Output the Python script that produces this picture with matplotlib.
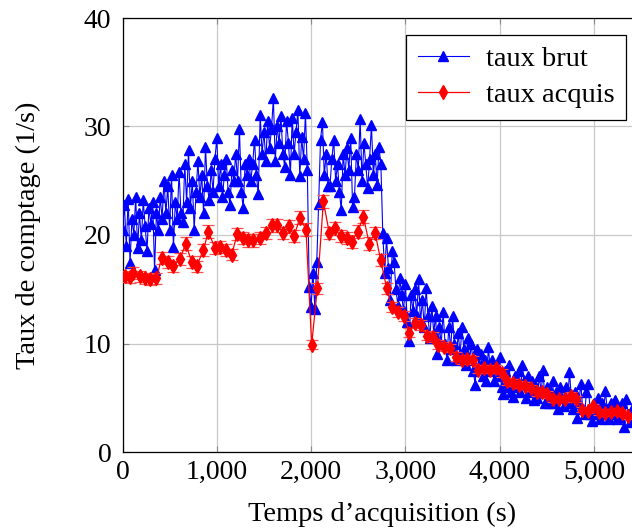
import numpy as np
import matplotlib
matplotlib.use("Agg")
import matplotlib.pyplot as plt

plt.rcParams['font.family'] = ['Liberation Serif', 'DejaVu Serif']

# Raw rate ("taux brut"), sampled every 20 s
brut_step = 20
brut_values = [
    20.5, 22.8, 19.0, 23.3, 17.4, 21.5, 20.0, 23.5, 18.8, 22.0,
    19.5, 23.2, 20.8, 18.5, 22.5, 21.0, 23.0, 16.8, 22.0, 20.5,
    23.5, 21.5, 25.0, 22.0, 24.5, 20.5, 25.5, 18.9, 23.0, 21.5,
    25.8, 22.0, 21.2, 26.5, 23.0, 27.8, 22.5, 25.0, 20.5, 24.0,
    26.8, 23.5, 25.5, 22.0, 28.1, 24.5, 23.2, 26.0, 24.0, 27.0,
    28.9, 24.5, 26.5, 23.5, 25.5, 27.0, 24.0, 22.8, 26.0, 25.0,
    27.5, 25.0, 29.8, 24.0, 22.5, 26.5, 25.5, 27.0, 25.0, 26.5,
    28.8, 25.5, 23.8, 31.1, 27.5, 29.5, 26.8, 30.5, 28.0, 29.8,
    32.6, 26.8, 30.0, 28.5, 31.0, 27.5, 26.3, 30.5, 28.5, 25.5,
    30.8, 27.5, 29.5, 31.5, 25.4, 29.0, 27.0, 31.2, 26.0, 15.2,
    13.4, 16.5, 13.2, 17.5, 22.9, 28.8, 30.4, 25.5, 27.5, 24.5,
    24.5, 27.0, 28.8, 25.0, 26.5, 24.0, 22.3, 27.5, 25.5, 28.0,
    26.0, 28.9, 22.6, 23.5, 27.5, 26.0, 30.7, 25.0, 28.5, 26.5,
    24.3, 27.0, 30.1, 25.5, 27.5, 24.6, 28.1, 26.5, 20.2, 16.5,
    19.7, 17.0, 14.0, 18.5, 17.5, 15.0, 13.5, 16.0, 14.5, 13.0,
    15.5, 12.0, 10.2, 14.5, 13.0, 15.0, 12.5, 15.9, 12.0, 14.0,
    11.5, 15.1, 12.5, 10.5, 13.5, 11.0, 12.5, 9.0, 11.5, 10.0,
    12.9, 10.0, 8.5, 11.5, 9.5, 12.5, 10.0, 8.5, 11.0, 9.0,
    11.5, 9.5, 8.0, 10.5, 8.5, 10.0, 7.5, 6.2, 9.5, 8.0,
    9.0, 7.0, 8.5, 6.5, 9.7, 7.5, 8.5, 6.5, 8.0, 7.0,
    8.8, 6.0, 5.3, 7.5, 6.0, 8.0, 5.5, 5.1, 7.0, 6.0,
    7.5, 5.5, 8.0, 6.5, 5.0, 7.0, 5.5, 6.5, 4.8, 6.0,
    5.0, 7.0, 5.5, 7.6, 4.5, 6.0, 4.5, 5.5, 6.5, 4.5,
    5.5, 4.0, 6.0, 5.0, 4.2, 6.0, 4.5, 7.4, 5.0, 4.0,
    5.5, 3.1, 4.5, 6.3, 4.0, 3.5, 5.5, 6.3, 3.5, 2.9,
    4.5, 3.5, 5.0, 3.0, 4.5, 3.5, 5.6, 4.0, 3.0, 4.5,
    3.5, 4.8, 3.0, 4.0, 3.2, 4.5, 2.3, 4.9, 3.5, 2.8,
    4.0,
]
brut_time = np.arange(len(brut_values)) * brut_step

# Acquired rate ("taux acquis") with error bars
acq_time = [27, 75, 115, 185, 240, 290, 360, 415, 485, 540,
            610, 670, 735, 785, 857, 910, 980, 1034, 1098, 1158,
            1217, 1281, 1334, 1387, 1458, 1522, 1582, 1642, 1705, 1769,
            1819, 1882, 1946, 2006, 2066, 2130, 2193, 2253, 2314, 2377,
            2430, 2494, 2554, 2617, 2678, 2738, 2801, 2854, 2925, 2985,
            3041, 3102, 3162, 3225, 3289, 3349, 3409, 3473, 3537, 3597,
            3656, 3714, 3773, 3833, 3897, 3958, 4021, 4081, 4144, 4205,
            4268, 4329, 4392, 4445, 4505, 4568, 4629, 4692, 4753, 4809,
            4870, 4933, 4993, 5056, 5117, 5177, 5241, 5300, 5364]
acq_values = [16.2, 16.1, 16.5, 16.2, 16.0, 15.9, 16.0, 17.9, 17.5, 17.1,
              17.8, 19.2, 17.5, 17.1, 18.6, 20.3, 18.8, 18.9, 18.6, 18.2,
              20.1, 19.7, 19.5, 19.5, 19.7, 20.2, 20.9, 20.9, 20.2, 20.8,
              19.9, 21.6, 20.5, 9.9, 15.1, 23.1, 20.2, 20.6, 19.9, 19.7,
              19.4, 20.3, 21.7, 19.2, 20.2, 17.7, 15.1, 13.4, 12.9, 12.5,
              11.0, 11.9, 11.7, 10.7, 10.6, 9.9, 9.7, 9.6, 8.8, 8.5,
              8.6, 8.5, 7.6, 7.7, 7.6, 7.7, 7.3, 6.5, 6.4, 6.2,
              6.1, 5.9, 5.5, 5.5, 5.3, 4.9, 4.9, 4.9, 5.2, 4.9,
              3.9, 3.8, 4.2, 3.7, 3.6, 3.7, 3.8, 3.6, 3.3]
acq_err = [.52, .52, .52, .52, .52, .51, .52, .55, .54, .53,
           .54, .57, .54, .53, .56, .58, .56, .56, .56, .55,
           .58, .57, .57, .57, .57, .58, .59, .59, .58, .59,
           .58, .60, .58, .41, .50, .62, .58, .59, .58, .57,
           .57, .58, .60, .57, .58, .54, .50, .47, .46, .46,
           .43, .45, .44, .42, .42, .41, .40, .40, .38, .38,
           .38, .38, .36, .36, .36, .36, .35, .33, .33, .32,
           .32, .31, .30, .30, .30, .29, .29, .29, .29, .29,
           .25, .25, .26, .25, .24, .25, .25, .24, .23]

x_ticks = [0, 1000, 2000, 3000, 4000, 5000]
x_tick_labels = ['0', '1,000', '2,000', '3,000', '4,000', '5,000']
y_ticks = [0, 10, 20, 30, 40]

W, H = 632, 530
fig = plt.figure(figsize=(W / 100, H / 100), dpi=100)
left_px, right_px, top_px, bottom_px = 122.5, 642, 18, 452
ax = fig.add_axes([left_px / W, 1 - bottom_px / H,
                   (right_px - left_px) / W, (bottom_px - top_px) / H])

brut_line, = ax.plot(brut_time, brut_values, color='blue', lw=0.8, marker='^',
                     ms=7.5, mec='blue', mfc='blue', label='taux brut', zorder=3)
err = ax.errorbar(acq_time, acq_values, yerr=acq_err, color='red', lw=0.9,
                  marker='d', ms=7.5, mec='red', mfc='red', ecolor='#ff5050',
                  elinewidth=0.9, capsize=4, capthick=0.9, label='taux acquis',
                  zorder=4)

ax.set_xlim(0, (right_px - left_px) / 94.3 * 1000)
ax.set_ylim(0, 40)
ax.set_xticks(x_ticks)
ax.set_xticklabels(x_tick_labels)
ax.set_yticks(y_ticks)
ax.grid(True, color='#c8c8c8', lw=0.9, zorder=0)
ax.set_axisbelow(True)
ax.tick_params(direction='in', length=4, width=0.8, color='#888888',
               labelsize=20, top=True, right=True)
ax.tick_params(axis='y', pad=8)
ax.tick_params(axis='x', pad=6)
for lab in ax.get_xticklabels() + ax.get_yticklabels():
    lab.set_color('black')
for s in ax.spines.values():
    s.set_linewidth(0.9)

ax.set_xlabel("Temps d\u2019acquisition (s)", fontsize=20.5, labelpad=12)
ax.set_ylabel("Taux de comptage (1/s)", fontsize=20.5, labelpad=31)

leg = fig.legend(handles=[brut_line, err.lines[0]],
                 labels=['taux brut', 'taux acquis'],
                 loc='upper right', bbox_to_anchor=(626 / W, 1 - 35 / H),
                 fontsize=20.5, frameon=True, fancybox=False, edgecolor='black',
                 framealpha=1, handlelength=1.8, borderpad=0.4,
                 labelspacing=0.35, handletextpad=0.6, borderaxespad=0)
leg.get_frame().set_linewidth(0.9)

fig.savefig('out.png', dpi=100)
